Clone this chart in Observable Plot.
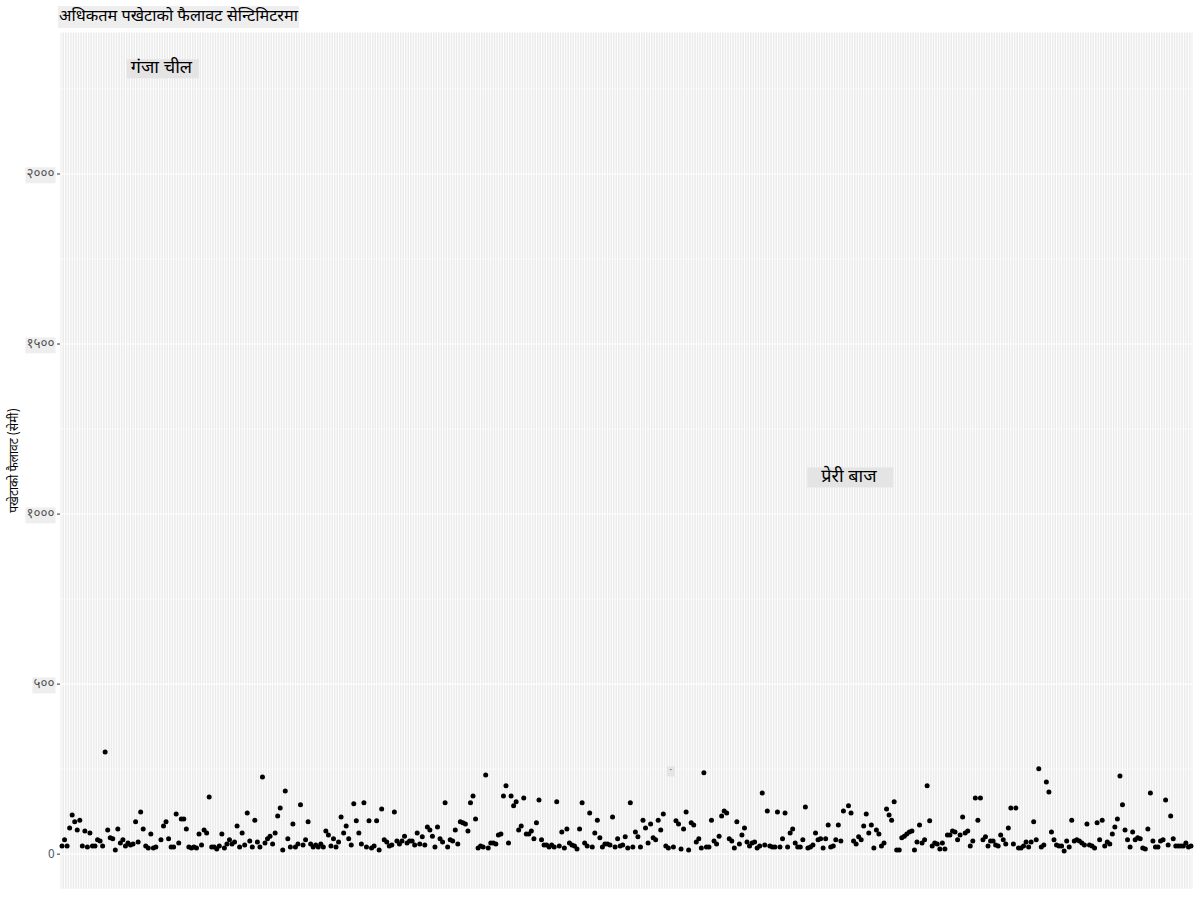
<!DOCTYPE html>
<html><head><meta charset="utf-8">
<script src="https://cdn.jsdelivr.net/npm/d3@7"></script>
<script src="https://cdn.jsdelivr.net/npm/@observablehq/plot@0.6"></script>
<style>
body{margin:0;background:#fff;font-family:"Noto Sans Devanagari","Lohit Devanagari","Noto Sans","DejaVu Sans",sans-serif;}
#title{position:absolute;left:58px;top:6px;height:22px;line-height:22px;font-size:16.3px;background:#eeeeee;padding:0 1px;color:#000;white-space:nowrap}
#chart{position:absolute;left:0;top:32px}
</style></head><body>
<div id="title">अधिकतम पखेटाको फैलावट सेन्टिमिटरमा</div>
<div id="chart"></div>
<script>
const wingspan = [
24,42,24,77,115,95,71,100,24,68, 21,62,24,24,42,39,24,300,71,48, 45,12,74,33,42,24,33,27,30,95, 36,124,74,24,18,59,18,21,2313,42, 83,95,45,21,21,118,33,103,103,74, 21,18,21,18,59,27,71,62,168,21, 21,15,24,59,18,30,42,30,36,83, 21,62,27,121,39,21,100,36,21,227, 33,45,53,30,62,112,136,12,186,45, 21,89,21,30,145,27,42,95,30,21, 27,21,30,21,68,56,24,45,21,36,
109,62,83,45,27,148,98,62,30,151, 21,98,18,24,98,12,133,42,36,24, 27,124,39,30,39,53,33,39,39,27, 62,30,51,27,80,71,53,21,80,45, 36,151,21,42,39,71,30,95,92,89, 68,151,171,103,18,24,21,233,18,33, 33,30,56,59,171,201,33,171,142,154, 71,83,165,59,59,68,45,92,159,42, 27,27,21,27,21,154,24,65,18,74, 33,27,24,15,74,151,33,24,121,21, 62,100,48,21,30,30,27,109,21,45,
24,27,51,18,151,21,65,51,21,100, 77,33,89,48,42,100,71,118,24,18, 245,21,98,89,15,74,124,12,92,86, 36,45,18,239,21,21,100,39,30,53, 112,127,121,45,39,18,95,30,56,77, 36,24,33,36,18,24,180,27,127,24, 21,21,124,21,45,121,21,62,74,33, 21,21,42,139,18,21,27,62,42,45, 18,45,86,21,24,42,86,39,127,1110, 142,121,39,30,51,42,83,118,62,86, 18,71,59,24,33,133,115,100,154,
12,12,48,53,59,65,68,12,36,86, 33,42,201,98,24,33,30,15,33,15, 56,56,68,65,42,56,109,62,68,24, 39,165,100,165,42,51,24,39,39,27, 24,56,42,30,77,136,30,136,18,18, 24,36,21,36,95,42,251,21,27,212, 183,65,42,27,24,24,9,39,21,100, 39,42,39,33,27,89,27,24,18,92, 42,100,24,36,30,59,80,103,230,145, 71,42,21,65,42,48,45,18,15,74, 180,39,21,21,39,42,159,27,112,45, 24,24,24,24,33,21,24
];
const labelIndex = [38, 309];
const labelText = ["गंजा चील", "प्रेरी बाज"];
const blankLabelIndex = [240];
const yTickValues = [0, 500, 1000, 1500, 2000];
const yTickLabels = ["0", "५००", "१०००", "१५००", "२०००"];
const yMinorValues = [250, 750, 1250, 1750, 2250];
const yDomain = [-101, 2416];
const yTitle = "पखेटाको फैलावट (सेमी)";

const FONT = '"Noto Sans Devanagari","Lohit Devanagari","Noto Sans","DejaVu Sans",sans-serif';
const birds = wingspan.map((v, i) => ({id: i, wingspan: v}));
const labels = labelIndex.map((idx, k) => ({id: idx, wingspan: wingspan[idx], text: labelText[k]}));
const blanks = blankLabelIndex.map(idx => ({id: idx, wingspan: wingspan[idx], text: "·"}));

const plot = Plot.plot({
  width: 1200, height: 868,
  marginTop: 0, marginBottom: 12, marginLeft: 60, marginRight: 8,
  style: {fontFamily: FONT, background: "#fff", overflow: "visible"},
  x: {type: "point", domain: birds.map(d => d.id), padding: 0.6, axis: null},
  y: {domain: yDomain},
  marks: [
    Plot.frame({fill: "#ebebeb", stroke: "none"}),
    Plot.ruleY(yMinorValues, {stroke: "#fff", strokeWidth: 0.55}),
    Plot.ruleY(yTickValues, {stroke: "#fff", strokeWidth: 1.1}),
    Plot.ruleX(birds, {x: "id", stroke: "#fff", strokeWidth: 1.0}),
    Plot.dot(birds, {x: "id", y: "wingspan", r: 2.5, fill: "#000", stroke: null}),
    Plot.text(labels, {x: "id", y: "wingspan", dx: 3, text: "text", fontSize: 18, fill: "#000", className: "lbl"}),
    Plot.text(blanks, {x: "id", y: "wingspan", text: "text", fontSize: 8, fill: "#333", className: "lbl-small"}),
    Plot.axisY(yTickValues, {tickFormat: d => yTickLabels[yTickValues.indexOf(d)], tickSize: 3, tickPadding: 3,
      label: null, fontSize: 13.5, color: "#555", stroke: "#333"}),
    Plot.text([yTitle], {frameAnchor: "left", textAnchor: "middle", rotate: -90, dx: -46, fontSize: 12, fill: "#000"})
  ]
});
document.getElementById("chart").appendChild(plot);

function addBoxes(selector, padFn, padY, fill, skip) {
  plot.querySelectorAll(selector).forEach((t, i) => {
    if (skip && skip(t)) return;
    const b = t.getBBox();
    const [pl, pr] = padFn(i);
    const r = document.createElementNS("http://www.w3.org/2000/svg", "rect");
    r.setAttribute("x", b.x - pl);
    r.setAttribute("y", b.y - padY);
    r.setAttribute("width", b.width + pl + pr);
    r.setAttribute("height", b.height + 2 * padY);
    r.setAttribute("fill", fill);
    if (t.getAttribute("transform")) r.setAttribute("transform", t.getAttribute("transform"));
    t.parentNode.insertBefore(r, t);
  });
}
addBoxes(".lbl text", i => i === 0 ? [4, 6] : [14, 16], -2, "#e4e4e4");
addBoxes(".lbl-small text", () => [3, 3], 0, "#e4e4e4");
const tickTexts = plot.querySelectorAll('g[aria-label="y-axis tick label"] text');
addBoxes('g[aria-label="y-axis tick label"] text', () => [1, 1], -1, "#eeeeee", t => t.textContent === "0");
tickTexts.forEach(t => { if (t.textContent === "0") { t.setAttribute("fill", "#4d5b6e"); t.style.fontSize = "12px"; } });
</script>
</body></html>
